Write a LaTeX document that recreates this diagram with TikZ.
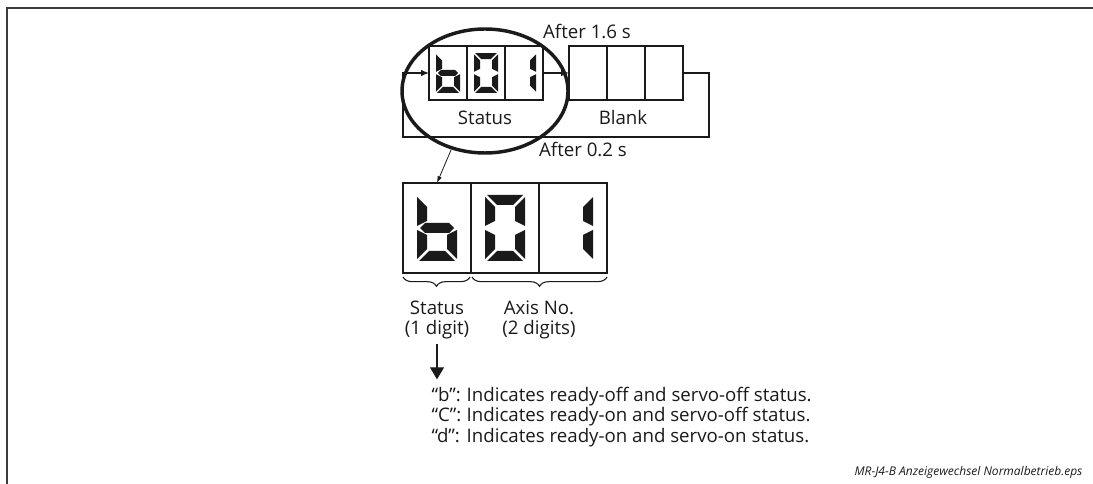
\documentclass[tikz,border=0pt]{standalone}
\usepackage{fontspec}
\setmainfont{Open Sans}
\usetikzlibrary{arrows.meta, positioning, shapes.geometric, decorations.pathreplacing, calc}
\definecolor{cink}{HTML}{1A1A1A}
\definecolor{cframe}{HTML}{3C3C3C}
% seven-segment pieces, glyph centred on (0,0), y pointing down
\newcommand{\sega}{(-18,-33) -- (18,-33) -- (8,-23) -- (-8,-23) -- cycle}
\newcommand{\segd}{(-18,33) -- (18,33) -- (8,23) -- (-8,23) -- cycle}
\newcommand{\segf}{(-20,-31) -- (-10,-21) -- (-10,-7) -- (-20,-2) -- cycle}
\newcommand{\sege}{(-20,31) -- (-10,21) -- (-10,7) -- (-20,2) -- cycle}
\newcommand{\segb}{(20,-31) -- (10,-21) -- (10,-7) -- (20,-2) -- cycle}
\newcommand{\segc}{(20,31) -- (10,21) -- (10,7) -- (20,2) -- cycle}
\newcommand{\segg}{(-17,0) -- (-12,-5) -- (12,-5) -- (17,0) -- (12,5) -- (-12,5) -- cycle}
\newcommand{\segdigit}[3]{%
  \begin{scope}[shift={(#1.center)}, scale=#2]
    \foreach \sg in {#3} \fill[cink] \csname seg\sg\endcsname;
  \end{scope}}
\tikzset{
  every picture/.style={x=0.75pt, y=-0.75pt, line width=0.9pt, font=\fontsize{14}{15.5}\selectfont},
  cell/.style={draw=cink, line width=1.5pt, outer sep=0pt, inner sep=0pt},
  scell/.style={cell, minimum width=28.5pt, minimum height=40.5pt},
  bcell/.style={cell, minimum width=51pt, minimum height=67.5pt},
  arrow/.style={-{Latex[length=6pt, width=5pt]}, draw=cink},
  lab/.style={inner sep=0pt, text=cink},
}

\begin{document}
\begin{tikzpicture}[
  frameline/.style={draw=cframe, line width=1.8pt},
  brace/.style={decorate, decoration={brace, amplitude=7pt}, draw=cink, line width=0.8pt},
  foot/.style={inner sep=0pt, font=\fontsize{9}{11}\itshape, text=cink}]
  \useasboundingbox (0,0) rectangle (1093,484);
  \draw[frameline] (1093,8) -- (7,8) -- (7,484);
  % ---- small display: status, then blank
  \node[scell] (s1) at (448,73) {};
  \foreach \i [count=\j from 2] in {1,2} \node[scell, right=0pt of s\i] (s\j) {};
  \node[scell] (b1) at (588,73) {};
  \foreach \i [count=\j from 2] in {1,2} \node[scell, right=0pt of b\i] (b\j) {};
  \segdigit{s1}{0.6}{f,g,e,d,c}
  \segdigit{s2}{0.6}{a,b,c,d,e,f}
  \segdigit{s3}{0.6}{b,c}
  \node[lab, anchor=base] (tstat) at (485,125) {Status};
  \node[lab, anchor=base] (tblank) at (623,125) {Blank};
  \node[lab, anchor=base] (t16) at (587,39) {After 1.6 s};
  \node[lab, anchor=base] (t02) at (583,157) {After 0.2 s};
  % loop back
  \coordinate (loopNE) at (709,73);
  \coordinate (loopSW) at (403,137);
  \draw[arrow] (s3.east) -- (b1.west);
  \draw[arrow] (b3.east) -- (loopNE) -- (loopNE |- loopSW) -- (loopSW) -- (loopSW |- s1.west) -- (s1.west);
  \node[ellipse, draw=cink, line width=2.6pt, inner sep=0pt, minimum width=124.5pt, minimum height=93pt] (lens) at (485,91) {};
  % ---- big display
  \node[bcell] (d1) at (437,228) {};
  \foreach \i [count=\j from 2] in {1,2} \node[bcell, right=0pt of d\i] (d\j) {};
  \segdigit{d1}{1}{f,g,e,d,c}
  \segdigit{d2}{1}{a,b,c,d,e,f}
  \segdigit{d3}{1}{b,c}
  \draw[-{Latex[length=5pt, width=3.5pt]}, draw=cink, line width=0.6pt] (lens.240) -- (d1.north);
  \draw[brace] ($(d1.south east)+(-1,4)$) -- ($(d1.south west)+(0,4)$);
  \draw[brace] ($(d3.south east)+(0,4)$) -- ($(d2.south west)+(1,4)$);
  \node[lab, align=center, anchor=north] (stat) at (437,300) {Status\\(1 digit)};
  \node[lab, align=center, anchor=north] (axis) at (539,300) {Axis No.\\(2 digits)};
  % ---- meaning of the status digit
  \node[lab, anchor=north west] (codes) at (431,386) {\begin{tabular}{@{}l@{\hspace{4pt}}l@{}}
    “b”: & Indicates ready-off and servo-off status.\\
    “C”: & Indicates ready-on and servo-off status.\\
    “d”: & Indicates ready-on and servo-on status.
  \end{tabular}};
  \draw[-{Triangle[length=9pt, width=10.5pt]}, draw=cink, line width=0.8pt, shorten >=5pt] ([yshift=-3pt]stat.south) -- (stat.south |- codes.north);
  \node[foot, anchor=base east] (file) at (1083,476) {MR-J4-B Anzeigewechsel Normalbetrieb.eps};
\end{tikzpicture}
\end{document}
